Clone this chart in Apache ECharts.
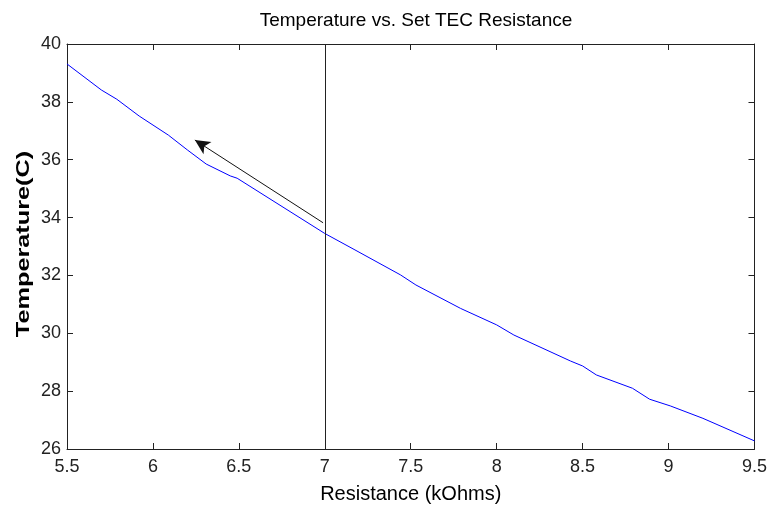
<!DOCTYPE html>
<html>
<head>
<meta charset="utf-8">
<script src="https://cdn.jsdelivr.net/npm/echarts@6/dist/echarts.min.js"></script>
<style>html,body{margin:0;padding:0;background:#fff}#c{width:770px;height:512px}</style>
</head>
<body>
<div id="c"></div>
<script>
// Measured set-point resistance (kOhms) and resulting temperature (C)
const resistance = [5.50, 5.70, 5.79, 5.92, 6.09, 6.20, 6.31, 6.45, 6.49, 7.00, 7.17, 7.44, 7.53, 7.79, 8.00, 8.10, 8.43, 8.50, 8.58, 8.79, 8.89, 9.01, 9.20, 9.50];
const temperature = [39.31, 38.41, 38.09, 37.51, 36.85, 36.34, 35.85, 35.44, 35.36, 33.45, 32.90, 32.02, 31.67, 30.86, 30.29, 29.94, 29.04, 28.87, 28.56, 28.10, 27.72, 27.49, 27.06, 26.28];

// Reference set point and annotation arrow (from, to)
const setPoint = 7;
const arrowFrom = [6.99, 33.82];
const arrowTo = [6.244, 36.68];

const xTicks = { min: 5.5, max: 9.5, interval: 0.5 };
const yTicks = { min: 26, max: 40, interval: 2 };

const FONT = '"Liberation Sans", Arial, sans-serif';
const INK = '#222';

const chart = echarts.init(document.getElementById('c'), null, { renderer: 'canvas' });

function axisBase(t, pos, showLabels) {
  return {
    type: 'value', position: pos, min: t.min, max: t.max, interval: t.interval,
    axisLine: { show: true, onZero: false, lineStyle: { color: INK, width: 1 } },
    axisTick: { show: true, inside: true, length: 6, lineStyle: { color: INK } },
    axisLabel: { show: showLabels, color: INK, fontFamily: FONT, fontSize: 18,
      formatter: v => String(+v.toFixed(2)) },
    splitLine: { show: false }
  };
}

const xMain = Object.assign(axisBase(xTicks, 'bottom', true), {
  name: 'Resistance (kOhms)', nameLocation: 'middle', nameGap: 35,
  nameTextStyle: { color: '#000', fontFamily: FONT, fontSize: 20 }
});
xMain.axisLabel.margin = 9;
const yMain = axisBase(yTicks, 'left', true);
yMain.axisLabel.margin = 6;

chart.setOption({
  backgroundColor: '#fff',
  animation: false,
  title: {
    text: 'Temperature vs. Set TEC Resistance',
    left: 411, top: 6, textAlign: 'center',
    textStyle: { color: '#000', fontFamily: FONT, fontSize: 19, fontWeight: 'normal' }
  },
  grid: { left: 67, right: 15, top: 44, bottom: 63, containLabel: false },
  xAxis: [xMain, axisBase(xTicks, 'top', false)],
  yAxis: [yMain, axisBase(yTicks, 'right', false)],
  // y-axis title, drawn rotated and stretched along its length
  graphic: [{
    type: 'text', x: 24, y: 244, rotation: Math.PI / 2, scaleX: 1.33,
    style: { text: 'Temperature(C)', fill: '#000', font: 'bold 19px ' + FONT,
      textAlign: 'center', textVerticalAlign: 'middle' }
  }],
  series: [{
    type: 'line',
    data: resistance.map((r, i) => [r, temperature[i]]),
    showSymbol: false,
    lineStyle: { color: '#0000ff', width: 1 },
    markLine: {
      silent: true,
      animation: false,
      symbol: ['none', 'none'],
      label: { show: false },
      emphasis: { disabled: true },
      lineStyle: { color: INK, width: 1, type: 'solid' },
      data: [{ xAxis: setPoint }]
    }
  }, {
    type: 'line',
    data: [],
    markLine: {
      silent: true,
      animation: false,
      symbol: ['none', 'arrow'],
      symbolSize: [11, 15],
      label: { show: false },
      emphasis: { disabled: true },
      lineStyle: { color: '#111', width: 1, type: 'solid' },
      data: [[{ coord: arrowFrom }, { coord: arrowTo }]]
    }
  }]
});
</script>
</body>
</html>
